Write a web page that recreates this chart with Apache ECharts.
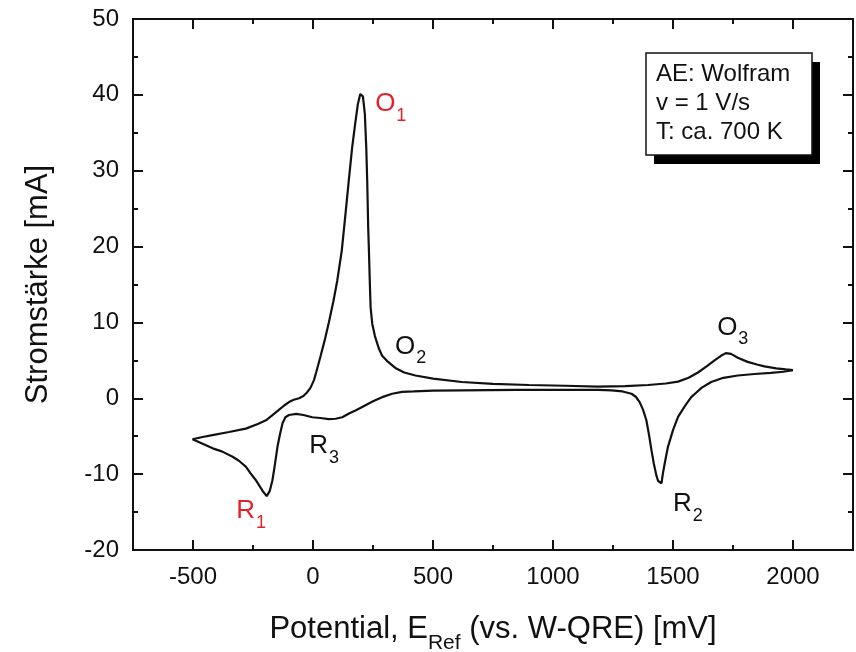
<!DOCTYPE html>
<html>
<head>
<meta charset="utf-8">
<title>Cyclovoltammogramm Wolfram</title>
<script src="https://cdn.jsdelivr.net/npm/echarts@6/dist/echarts.min.js"></script>
<style>
  html, body { margin: 0; padding: 0; background: #fff; }
  #chart { width: 856px; height: 652px; }
</style>
</head>
<body>
<div id="chart"></div>
<script>
// Potential [mV] / current [mA], anodic sweep from -500 mV up to 2000 mV
const anodicScan = [
  [-502, -5.4], [-460, -5.1], [-419, -4.85], [-350, -4.45], [-280, -4.0], [-230, -3.4],
  [-196, -2.9], [-160, -2.0], [-141, -1.5], [-120, -0.95], [-100, -0.5], [-80, -0.2],
  [-58, 0.0], [-40, 0.3], [-24, 0.8], [-10, 1.4], [4, 2.4], [14, 3.5], [32, 5.6],
  [50, 7.8], [66, 10.0], [85, 12.8], [101, 15.5], [120, 19.5], [136, 24.5], [150, 29.0],
  [163, 33.0], [175, 36.0], [187, 38.8], [197, 40.1], [202, 40.3], [208, 39.8],
  [216, 37.5], [222, 33.0], [226, 28.5], [230, 22.5], [233, 19.5], [237, 15.0],
  [240, 12.0], [247, 9.8], [258, 8.2], [274, 6.6], [288, 5.6], [309, 4.9], [343, 4.0],
  [380, 3.4], [427, 3.0], [500, 2.6], [620, 2.15], [750, 1.9], [900, 1.75], [1050, 1.65],
  [1188, 1.55], [1300, 1.6], [1396, 1.75], [1470, 1.95], [1521, 2.2], [1565, 2.7],
  [1604, 3.4], [1640, 4.2], [1673, 5.0], [1700, 5.6], [1720, 5.95], [1742, 5.85],
  [1770, 5.35], [1811, 4.8], [1850, 4.45], [1881, 4.2], [1930, 3.95], [1970, 3.8],
  [2000, 3.7]
];

// Cathodic sweep back from 2000 mV to -500 mV
const cathodicScan = [
  [2000, 3.7], [1960, 3.5], [1908, 3.35], [1840, 3.2], [1770, 3.0], [1710, 2.7],
  [1659, 2.15], [1620, 1.4], [1595, 0.7], [1576, 0.15], [1550, -1.0], [1521, -2.45],
  [1500, -4.2], [1479, -6.4], [1466, -8.5], [1458, -9.9], [1452, -11.2], [1446, -11.3],
  [1438, -10.9], [1431, -10.2], [1420, -8.6], [1410, -6.8], [1400, -4.8], [1389, -2.9],
  [1375, -1.5], [1361, -0.5], [1345, 0.2], [1327, 0.6], [1290, 0.9], [1244, 1.05],
  [1188, 1.1], [1036, 1.1], [850, 1.1], [620, 1.05], [500, 1.0], [420, 0.9], [371, 0.85],
  [330, 0.6], [288, 0.15], [250, -0.4], [205, -1.15], [177, -1.6], [150, -2.0],
  [122, -2.5], [94, -2.7], [66, -2.75], [30, -2.6], [-3, -2.5], [-40, -2.2], [-70, -2.05],
  [-100, -2.2], [-115, -2.5], [-127, -3.3], [-138, -4.8], [-148, -6.4], [-160, -9.0],
  [-169, -10.8], [-180, -12.2], [-193, -12.9], [-200, -12.9], [-210, -12.2],
  [-238, -10.8], [-260, -9.9], [-280, -9.0], [-310, -8.2], [-335, -7.7], [-380, -7.0],
  [-418, -6.6], [-460, -6.0], [-502, -5.4]
];

// Axis ranges and tick values
const xRange = [-750, 2250];
const xMajorTicks = [-500, 0, 500, 1000, 1500, 2000];
const xMinorTicks = [-250, 250, 750, 1250, 1750];
const yRange = [-20, 50];
const yStep = 10;

// Peak names (letter, index, anchor in data units, highlighted)
const peakNames = [
  { letter: 'O', index: '1', at: [324, 38.7], red: true },
  { letter: 'O', index: '2', at: [407, 6.7], red: false },
  { letter: 'O', index: '3', at: [1749, 9.2], red: false },
  { letter: 'R', index: '1', at: [-258, -15.0], red: true },
  { letter: 'R', index: '2', at: [1562, -14.1], red: false },
  { letter: 'R', index: '3', at: [46, -6.4], red: false }
];

// Conditions shown in the info box
const infoLines = ['AE: Wolfram', 'v = 1 V/s', 'T: ca. 700 K'];

const FONT = '"Liberation Sans", Arial, Helvetica, sans-serif';
const RED = '#e3232b';
const INK = '#111';

const chart = echarts.init(document.getElementById('chart'), null, { renderer: 'canvas' });

function xAxisDef(pos, ticks, len, withLabels) {
  return {
    type: 'value', position: pos, min: xRange[0], max: xRange[1],
    axisLine: { show: true, onZero: false, lineStyle: { color: INK, width: 2 } },
    axisTick: { show: true, inside: true, length: len, customValues: ticks,
                lineStyle: { color: INK, width: 2 } },
    axisLabel: withLabels ? { show: true, customValues: ticks, margin: 15,
                formatter: (v) => String(v),
                fontFamily: FONT, fontSize: 24, color: INK } : { show: false },
    splitLine: { show: false }
  };
}

function yAxisDef(pos, withLabels) {
  return {
    type: 'value', position: pos, min: yRange[0], max: yRange[1], interval: yStep,
    axisLine: { show: true, onZero: false, lineStyle: { color: INK, width: 2 } },
    axisTick: { show: true, inside: true, length: 10, lineStyle: { color: INK, width: 2 } },
    minorTick: { show: true, splitNumber: 2, length: 5, lineStyle: { color: INK, width: 2 } },
    axisLabel: withLabels ? { show: true, margin: 14, formatter: (v) => String(v),
                fontFamily: FONT, fontSize: 24, color: INK } : { show: false },
    splitLine: { show: false }, minorSplitLine: { show: false }
  };
}

const xBottom = xAxisDef('bottom', xMajorTicks, 10, true);
xBottom.name = '{m|Potential, E}{s|Ref}{m| (vs. W-QRE) [mV]}';
xBottom.nameLocation = 'middle';
xBottom.nameGap = 64;
xBottom.nameTextStyle = {
  fontFamily: FONT, color: INK,
  rich: {
    m: { fontFamily: FONT, fontSize: 31, color: INK, lineHeight: 34, verticalAlign: 'top' },
    s: { fontFamily: FONT, fontSize: 21, color: INK, lineHeight: 22, verticalAlign: 'top',
         padding: [19, 0, 0, 0] }
  }
};

const yLeft = yAxisDef('left', true);
yLeft.name = 'Stromstärke [mA]';
yLeft.nameLocation = 'middle';
yLeft.nameGap = 79;
yLeft.nameTextStyle = { fontFamily: FONT, fontSize: 31, color: INK };

const labelRich = {
  b: { fontFamily: FONT, fontSize: 26, color: INK, lineHeight: 28, verticalAlign: 'top' },
  bs: { fontFamily: FONT, fontSize: 18, color: INK, lineHeight: 19, verticalAlign: 'top', padding: [16, 0, 0, 1] },
  r: { fontFamily: FONT, fontSize: 26, color: RED, lineHeight: 28, verticalAlign: 'top' },
  rs: { fontFamily: FONT, fontSize: 18, color: RED, lineHeight: 19, verticalAlign: 'top', padding: [16, 0, 0, 1] }
};

const option = {
  animation: false,
  backgroundColor: '#fff',
  grid: { left: 133, right: 3, top: 19, bottom: 102, containLabel: false, outerBoundsMode: 'none' },
  xAxis: [
    xBottom,
    xAxisDef('bottom', xMinorTicks, 5, false),
    xAxisDef('top', xMajorTicks, 10, false),
    xAxisDef('top', xMinorTicks, 5, false)
  ],
  yAxis: [yLeft, yAxisDef('right', false)],
  series: [
    {
      name: 'anodisch', type: 'line', xAxisIndex: 0, yAxisIndex: 0,
      data: anodicScan, showSymbol: false, symbol: 'none', smooth: false,
      lineStyle: { color: INK, width: 2.2 }, z: 3
    },
    {
      name: 'kathodisch', type: 'line', xAxisIndex: 0, yAxisIndex: 0,
      data: cathodicScan, showSymbol: false, symbol: 'none', smooth: false,
      lineStyle: { color: INK, width: 2.2 }, z: 3
    },
    {
      name: 'Peaks', type: 'scatter', xAxisIndex: 0, yAxisIndex: 0,
      symbolSize: 0, silent: true, z: 4,
      itemStyle: { color: INK, opacity: 1 },
      data: peakNames.map(p => p.at),
      label: {
        show: true, position: 'inside', opacity: 1,
        textBorderWidth: 0, textBorderColor: 'transparent', textShadowBlur: 0,
        formatter: (params) => {
          const p = peakNames[params.dataIndex];
          return p.red ? `{r|${p.letter}}{rs|${p.index}}` : `{b|${p.letter}}{bs|${p.index}}`;
        },
        rich: labelRich
      }
    }
  ],
  graphic: [
    { type: 'rect', shape: { x: 654, y: 62, width: 166, height: 102 },
      style: { fill: '#000' }, z: 10 },
    { type: 'rect', shape: { x: 646, y: 53, width: 166, height: 102 },
      style: { fill: '#fff', stroke: INK, lineWidth: 1.5 }, z: 11 },
    { type: 'text', left: 656, top: 60, z: 12,
      style: { text: infoLines.join('\n'), fontFamily: FONT, fontSize: 24,
               lineHeight: 29, fill: INK } }
  ]
};

chart.setOption(option);
</script>
</body>
</html>
